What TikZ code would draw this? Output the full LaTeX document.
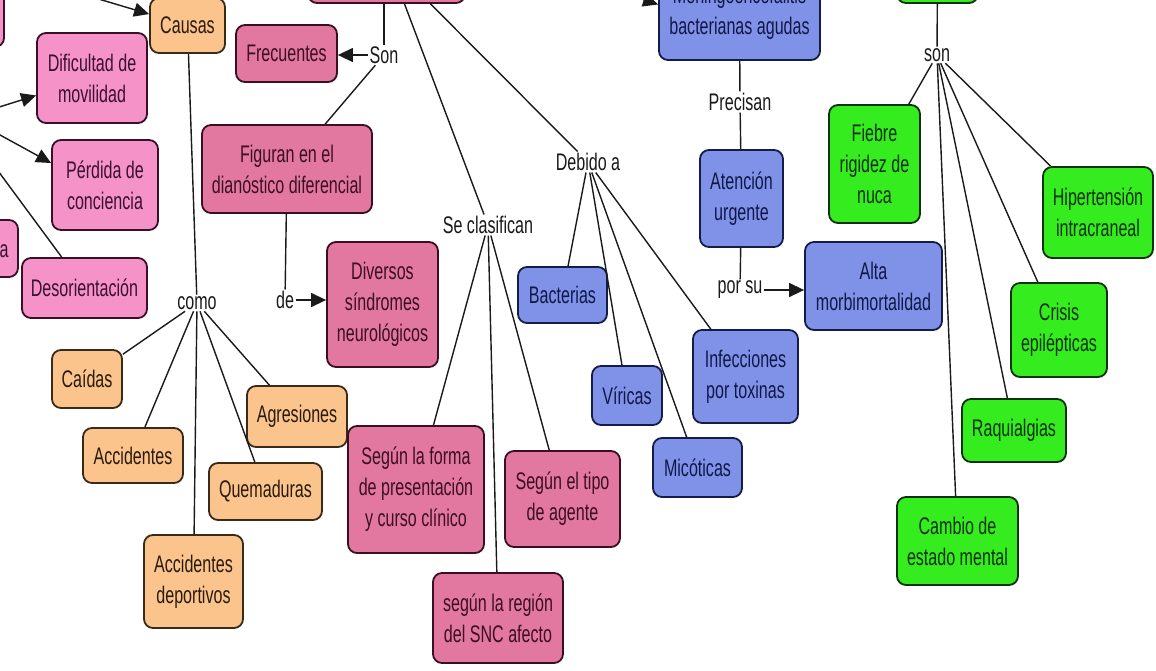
\documentclass[tikz,border=0pt]{standalone}
\usepackage{fontspec}
\setmainfont{Liberation Sans}[FakeStretch=0.67]
\usetikzlibrary{arrows.meta,calc}
\definecolor{fPL}{HTML}{F592C8}
\definecolor{fPD}{HTML}{E2789F}
\definecolor{fOR}{HTML}{FAC48C}
\definecolor{fBL}{HTML}{8092E8}
\definecolor{fGR}{HTML}{34EC1E}
\definecolor{bPL}{HTML}{3A1028}
\definecolor{bPD}{HTML}{3A0F22}
\definecolor{bOR}{HTML}{3A2A18}
\definecolor{bBL}{HTML}{141C48}
\definecolor{bGR}{HTML}{0E300C}
\definecolor{tPL}{HTML}{3A1030}
\definecolor{tPD}{HTML}{3C0E22}
\definecolor{tOR}{HTML}{2A1A0C}
\definecolor{tBL}{HTML}{101848}
\definecolor{tGR}{HTML}{0A300A}
\definecolor{lnc}{HTML}{1A1A1A}
\newcommand\mkbox[7]{\node[#2, minimum width={(#4)-(#3)}, minimum height={(#6)-(#5)}] (#1) at ({((#3)+(#4))/2},{((#5)+(#6))/2}) {#7};}
\tikzset{
  box/.style={rounded corners=9pt, line width=1.8pt, align=center, inner sep=0pt},
  pl/.style={box, draw=bPL, fill=fPL, text=tPL},
  pd/.style={box, draw=bPD, fill=fPD, text=tPD},
  or/.style={box, draw=bOR, fill=fOR, text=tOR},
  bl/.style={box, draw=bBL, fill=fBL, text=tBL},
  gr/.style={box, draw=bGR, fill=fGR, text=tGR},
  lbl/.style={inner sep=1.5pt, text=lnc},
  link/.style={draw=lnc, line width=1.4pt},
  arr/.style={link, -{Triangle[length=15pt,width=14pt]}}
}
\begin{document}
\begin{tikzpicture}[x=1pt,y=-1pt, font=\fontsize{24}{31}\selectfont]
\useasboundingbox (0,0) rectangle (1156,670);
\fill[white] (0,0) rectangle (1156,670);
\clip (0,0) rectangle (1156,670);
% left pink
\mkbox{ptl}{pl}{-60}{4}{-40}{47}{}
\mkbox{dific}{pl}{37}{147}{33}{123}{Dificultad de\\movilidad}
\mkbox{perd}{pl}{52}{158}{140}{230}{Pérdida de\\conciencia}
\mkbox{pa}{pl}{-60}{18}{220}{277}{}
\node[text=tPL, inner sep=0pt] (pat) at (4,251) {a};
\mkbox{desor}{pl}{22}{147}{258}{318}{Desorientación}
% orange
\mkbox{causas}{or}{150}{225}{-2}{53}{Causas}
\mkbox{caidas}{or}{52}{122}{350}{408}{Caídas}
\mkbox{accid}{or}{83}{183}{428}{483}{Accidentes}
\mkbox{quem}{or}{209}{322}{463}{520}{Quemaduras}
\mkbox{agres}{or}{247}{347}{386}{447}{Agresiones}
\mkbox{accdep}{or}{144}{243}{535}{628}{Accidentes\\deportivos}
% rose
\mkbox{topbox}{pd}{308}{465}{-60}{3}{}
\mkbox{frec}{pd}{236}{337}{25}{82}{Frecuentes}
\mkbox{figuran}{pd}{202}{372}{125}{213}{Figuran en el\\dianóstico diferencial}
\mkbox{divers}{pd}{327}{438}{242}{367}{Diversos\\síndromes\\neurológicos}
\mkbox{segforma}{pd}{348}{484}{426}{553}{Según la forma\\de presentación\\y curso clínico}
\mkbox{segtipo}{pd}{505}{620}{451}{547}{Según el tipo\\de agente}
\mkbox{segreg}{pd}{433}{563}{573}{663}{según la región\\del SNC afecto}
% blue
\mkbox{mening}{bl}{659}{820}{-35}{60}{Meningoencefalitis\\bacterianas agudas}
\mkbox{atenc}{bl}{700}{783}{150}{247}{Atención\\urgente}
\mkbox{alta}{bl}{805}{942}{242}{330}{Alta\\morbimortalidad}
\mkbox{bact}{bl}{518}{607}{267}{323}{Bacterias}
\mkbox{viric}{bl}{592}{662}{366}{425}{Víricas}
\mkbox{micot}{bl}{653}{742}{438}{497}{Micóticas}
\mkbox{infec}{bl}{693}{798}{330}{423}{Infecciones\\por toxinas}
% green
\mkbox{gtop}{gr}{897}{978}{-60}{3}{}
\mkbox{fiebre}{gr}{829}{920}{105}{223}{Fiebre\\rigidez de\\nuca}
\mkbox{hiper}{gr}{1043}{1153}{167}{258}{Hipertensión\\intracraneal}
\mkbox{crisis}{gr}{1011}{1107}{283}{377}{Crisis\\epilépticas}
\mkbox{raqui}{gr}{962}{1066}{399}{462}{Raquialgias}
\mkbox{cambio}{gr}{897}{1018}{497}{585}{Cambio de\\estado mental}
% labels
\node[lbl] (son) at (384,55) {Son};
\node[lbl] (como) at (197,303) {como};
\node[lbl] (de) at (285,300) {de};
\node[lbl] (seclas) at (488,225) {Se clasifican};
\node[lbl] (debido) at (588,162) {Debido a};
\node[lbl] (precisan) at (740,102) {Precisan};
\node[lbl] (porsu) at (740,290) {por su};
\node[lbl] (son2) at (937,55) {son};
% free ends
\coordinate (in1) at (55,-14);
\coordinate (in2) at (-20,113);
\coordinate (in3) at (-20,124);
\coordinate (in4) at (-10,160);
\coordinate (in5) at (600,-15);
% connectors
\draw[arr] (in1) -- (causas);
\draw[arr] (in2) -- (dific);
\draw[arr] (in3) -- ($(perd.west)+(0,-22)$);
\draw[link] (in4) -- (desor);
\draw[arr] (in5) -- ($(mening.west)+(0,-8)$);
\draw[link] (causas) -- (como);
\foreach \t in {caidas,accid,accdep,quem,agres} \draw[link] (como) -- (\t);
\draw[link] (topbox.south -| son.north) -- (son.north);
\draw[arr] (son.west) -- (son.west -| frec.east);
\draw[link] (son) -- (figuran);
\draw[link] (figuran) -- (de);
\draw[arr] (de.east) -- (de.east -| divers.west);
\draw[link] ($(topbox.south)+(18,0)$) -- (seclas);
\draw[link] ($(topbox.south)+(44,0)$) -- (debido);
\foreach \t in {segforma,segreg,segtipo} \draw[link] (seclas) -- (\t);
\foreach \t in {bact,viric,micot,infec} \draw[link] (debido) -- (\t);
\draw[link] (mening) -- (precisan);
\draw[link] (precisan) -- (atenc);
\draw[link] (atenc) -- (porsu);
\draw[arr] (porsu.east) -- (porsu.east -| alta.west);
\draw[link] (gtop) -- (son2);
\foreach \t in {fiebre,hiper,crisis,raqui,cambio} \draw[link] (son2) -- (\t);
\end{tikzpicture}
\end{document}
